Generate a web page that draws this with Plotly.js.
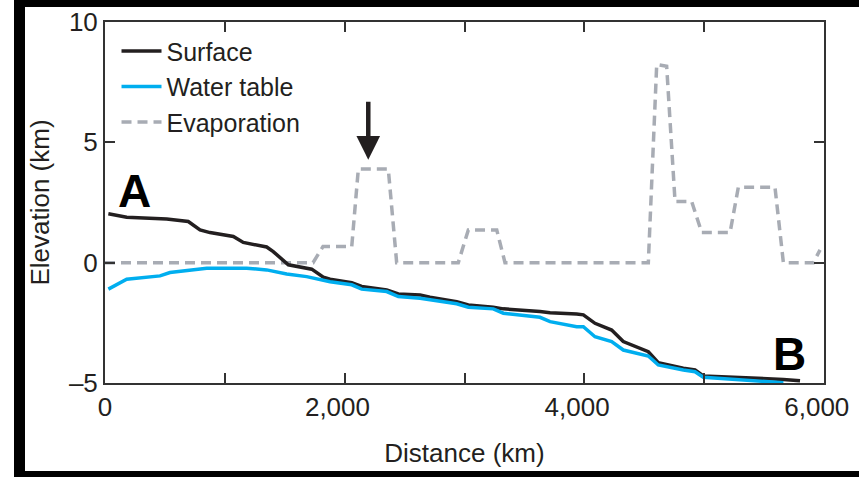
<!DOCTYPE html>
<html>
<head>
<meta charset="utf-8">
<script src="https://cdn.plot.ly/plotly-3.0.1.min.js"></script>
<style>
  html, body { margin: 0; padding: 0; background: #fff; }
  #wrap { position: relative; width: 865px; height: 477px; overflow: hidden; }
  #chart { position: absolute; left: 0; top: 0; width: 865px; height: 477px; }
  #frame { position: absolute; left: 14px; top: 0; width: 834px; height: 464px;
           border-left: 11px solid #000; border-top: 7px solid #000; border-bottom: 6px solid #000;
           pointer-events: none; box-sizing: content-box; }
</style>
</head>
<body>
<div id="wrap">
  <div id="chart"></div>
  <div id="frame"></div>
</div>
<script>
// Surface profile (distance km, elevation km)
const surfaceX = [28, 181, 515, 695, 793, 876, 1071, 1154, 1349, 1404, 1530, 1725, 1822, 1878, 2059, 2142, 2351, 2448, 2629, 2712, 2935, 3032, 3240, 3324, 3630, 3714, 3936, 3992, 4089, 4228, 4325, 4534, 4617, 4826, 4924, 4993, 5661, 5800];
const surfaceY = [2.03, 1.89, 1.81, 1.71, 1.36, 1.25, 1.09, 0.84, 0.65, 0.46, -0.09, -0.27, -0.60, -0.69, -0.83, -0.99, -1.13, -1.30, -1.34, -1.44, -1.62, -1.76, -1.85, -1.92, -2.03, -2.08, -2.13, -2.17, -2.52, -2.80, -3.28, -3.70, -4.16, -4.39, -4.46, -4.71, -4.85, -4.91];

// Water table
const waterX = [28, 181, 459, 542, 849, 1183, 1349, 1516, 1683, 1822, 1878, 2059, 2142, 2351, 2448, 2629, 2712, 2935, 3032, 3240, 3324, 3630, 3714, 3936, 3992, 4089, 4228, 4325, 4534, 4617, 4826, 4924, 4993, 5272, 5661];
const waterY = [-1.10, -0.69, -0.55, -0.41, -0.23, -0.23, -0.30, -0.47, -0.58, -0.74, -0.79, -0.92, -1.10, -1.20, -1.41, -1.48, -1.55, -1.71, -1.85, -1.92, -2.10, -2.27, -2.45, -2.66, -2.66, -3.08, -3.28, -3.63, -3.88, -4.25, -4.46, -4.53, -4.76, -4.85, -4.99];

// Evaporation
const evapX = [0, 1736, 1819, 2059, 2114, 2364, 2434, 2948, 3032, 3269, 3338, 4534, 4604, 4687, 4757, 4896, 4980, 5216, 5285, 5591, 5661, 5911, 5967];
const evapY = [0, 0, 0.67, 0.67, 3.89, 3.89, 0, 0, 1.36, 1.36, 0, 0, 8.23, 8.16, 2.54, 2.54, 1.25, 1.25, 3.13, 3.13, 0, 0, 0.53];

// Axis ticks
const xTickVals = [0, 1000, 2000, 3000, 4000, 5000, 6000];
const xTickText = ['0', '', '2,000', '', '4,000', '', '6,000'];
const yTickVals = [-5, 0, 5, 10];
const yTickText = ['–5', '0', '5', '10'];

// Labels
const seriesNames = ['Surface', 'Water table', 'Evaporation'];
const xTitle = 'Distance (km)';
const yTitle = 'Elevation (km)';
const arrowAt = { x: 2197, y: 4.28, fromY: 6.75 };
const labelA = { text: 'A', x: 242, y: 2.99 };
const labelB = { text: 'B', x: 5708, y: -3.80 };

const ink = '#231f20';
const font = 'Liberation Sans, Arial, Helvetica, sans-serif';

const traces = [
  { x: evapX, y: evapY, name: seriesNames[2], mode: 'lines', legendrank: 3,
    line: { color: '#a8acb4', width: 3.5, dash: '10px,6px' } },
  { x: surfaceX, y: surfaceY, name: seriesNames[0], mode: 'lines', legendrank: 1,
    line: { color: ink, width: 3.5 } },
  { x: waterX, y: waterY, name: seriesNames[1], mode: 'lines', legendrank: 2,
    line: { color: '#00aeef', width: 3.5 } }
];

const axisCommon = {
  showgrid: false, zeroline: false, showline: true, linecolor: '#333', linewidth: 2,
  mirror: 'ticks', ticks: 'inside', ticklen: 10, tickwidth: 2, tickcolor: '#333',
  tickfont: { family: font, size: 26, color: ink }
};

// shift comma labels slightly left, as in the reference typesetting
const xTickTextShifted = xTickText.map(t => t.indexOf(',') >= 0 ? t + '\u00a0\u00a0' : t);

const layout = {
  width: 865, height: 477,
  margin: { l: 105, r: 41, t: 22, b: 94 },
  paper_bgcolor: '#fff', plot_bgcolor: '#fff',
  font: { family: font, color: ink, size: 26 },
  showlegend: true,
  legend: { x: 0.016, y: 0.983, xanchor: 'left', yanchor: 'top', bgcolor: 'rgba(0,0,0,0)',
            itemwidth: 40,
            font: { family: font, size: 25, color: ink }, tracegroupgap: 0 },
  xaxis: Object.assign({}, axisCommon, {
    range: [0, 6000], tickmode: 'array', tickvals: xTickVals, ticktext: xTickTextShifted,
    title: { text: xTitle, font: { family: font, size: 26, color: ink }, standoff: 23 }
  }),
  yaxis: Object.assign({}, axisCommon, {
    range: [-5, 10], tickmode: 'array', tickvals: yTickVals, ticktext: yTickText,
    title: { text: yTitle, font: { family: font, size: 26, color: ink }, standoff: 12 }
  }),
  annotations: [
    { x: arrowAt.x, y: arrowAt.y, ax: arrowAt.x, ay: arrowAt.fromY, axref: 'x', ayref: 'y',
      xref: 'x', yref: 'y', text: '', showarrow: true, arrowhead: 2, arrowsize: 1.05,
      arrowwidth: 4.5, arrowcolor: ink },
    { x: labelA.x, y: labelA.y, xref: 'x', yref: 'y', text: '<b>' + labelA.text + '</b>', showarrow: false,
      font: { family: font, size: 46, color: '#000' } },
    { x: labelB.x, y: labelB.y, xref: 'x', yref: 'y', text: '<b>' + labelB.text + '</b>', showarrow: false,
      font: { family: font, size: 46, color: '#000' } }
  ]
};

Plotly.newPlot('chart', traces, layout, { displayModeBar: false, staticPlot: true });
</script>
</body>
</html>
